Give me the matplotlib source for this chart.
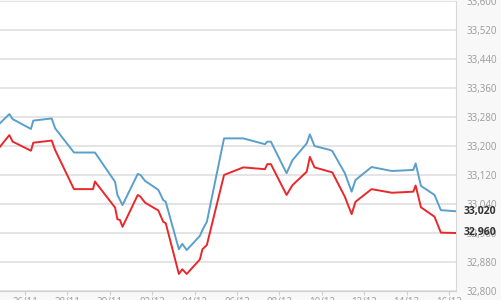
import matplotlib
matplotlib.use("Agg")
import matplotlib.pyplot as plt
import numpy as np

plt.rcParams["font.family"] = ["Open Sans", "DejaVu Sans"]

# days counted from 26/11
days = [-1.18, -0.74, -0.58, 0.28, 0.39, 1.26, 1.42, 2.31, 3.21, 3.30,
        4.25, 4.36, 4.48, 4.60, 5.32, 5.45, 5.66, 6.29, 6.52, 6.64,
        7.26, 7.42, 7.63, 8.25, 8.37, 8.58, 9.39, 10.30, 11.32, 11.43,
        11.60, 12.34, 12.62, 13.29, 13.44, 13.66, 14.39, 14.50, 15.09, 15.41,
        15.59, 16.35, 17.31, 18.32, 18.43, 18.68, 19.32, 19.62, 20.33]

blue = [33263, 33288, 33274, 33247, 33270, 33276, 33249, 33182, 33182, 33182,
        33101, 33065, 33051, 33037, 33123, 33120, 33104, 33079, 33051, 33046,
        32915, 32930, 32913, 32952, 32968, 32991, 33221, 33221, 33205, 33212,
        33212, 33125, 33161, 33207, 33232, 33200, 33189, 33186, 33125, 33074,
        33106, 33142, 33131, 33134, 33152, 33090, 33065, 33023, 33020]

red = [33198, 33230, 33212, 33187, 33209, 33215, 33189, 33081, 33081, 33102,
       33030, 32998, 32996, 32977, 33065, 33060, 33044, 33022, 32991, 32987,
       32847, 32860, 32847, 32887, 32915, 32927, 33120, 33141, 33136, 33150,
       33150, 33065, 33092, 33129, 33170, 33141, 33129, 33127, 33060, 33012,
       33046, 33081, 33071, 33074, 33091, 33031, 33005, 32961, 32960]

tick_days = list(range(0, 21, 2))
tick_labels = ["26/11", "28/11", "30/11", "02/12", "04/12", "06/12",
               "08/12", "10/12", "12/12", "14/12", "16/12"]
y_ticks = list(range(32800, 33601, 80))

fig = plt.figure(figsize=(5.01, 3.00), dpi=100, facecolor="#f8f8f8")
ax = fig.add_axes([0.0, 0.03, 0.910, 0.9667])
ax.set_facecolor("white")

ax.plot(days, blue, color="#5b9fcb", lw=1.4, zorder=3)
ax.plot(days, red, color="#e8282b", lw=1.4, zorder=3)

ax.set_xlim(days[0], days[-1])
ax.set_ylim(32800, 33600)

ax.yaxis.tick_right()
ax.set_yticks(y_ticks)
ax.set_yticklabels(["{:,}".format(v) for v in y_ticks])
ax.tick_params(axis="y", length=0, pad=8, labelsize=7, labelcolor="#9a9a9a")

ax.set_xticks(tick_days)
ax.set_xticklabels(tick_labels)
ax.tick_params(axis="x", length=3, width=0.8, color="#d0d0d0", pad=1,
               labelsize=7, labelcolor="#9a9a9a")

ax.grid(axis="y", color="#dcdcdc", lw=1.1)
ax.set_axisbelow(True)
for s in ["left", "top"]:
    ax.spines[s].set_visible(False)
ax.spines["right"].set_color("#d8d8d8")
ax.spines["bottom"].set_color("#cfcfcf")

# last value labels
for v in [blue[-1], red[-1]]:
    ax.annotate("{:,}".format(v), xy=(1, v), xycoords=("axes fraction", "data"),
                xytext=(8, 0), textcoords="offset pixels",
                ha="left", va="center", fontsize=7.5, fontweight="bold",
                color="#333333", annotation_clip=False)

fig.savefig("out.png", dpi=100, facecolor=fig.get_facecolor())
